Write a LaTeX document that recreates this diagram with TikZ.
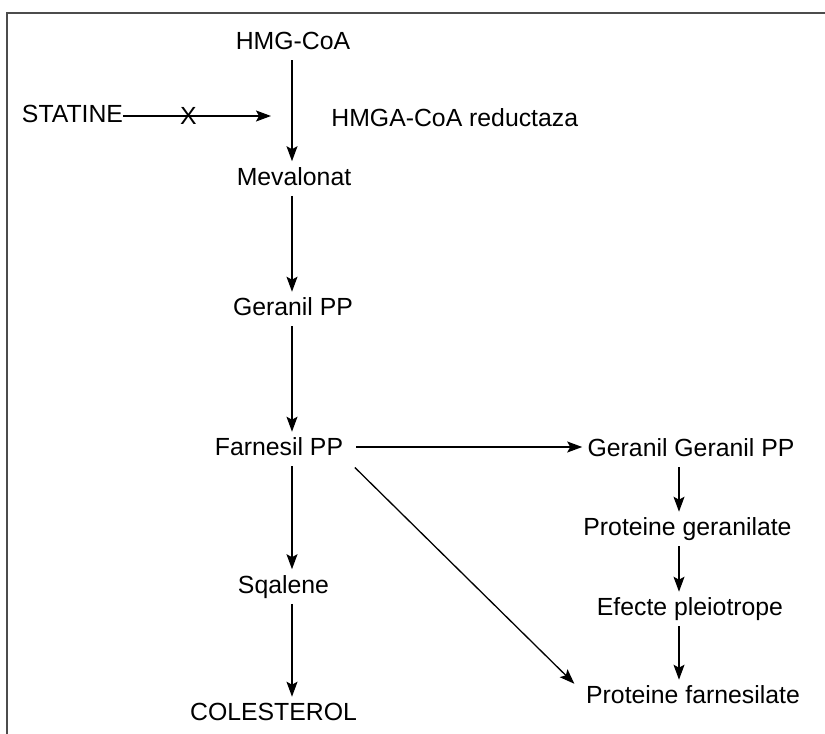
\documentclass[tikz,border=0pt]{standalone}
\usepackage{fontspec}
\setmainfont{Liberation Sans}
\usetikzlibrary{arrows.meta,positioning}

\begin{document}
\begin{tikzpicture}[x=0.5bp,y=-0.5bp,
  lbl/.style={inner sep=0pt,text height=8.9bp,text depth=0pt,font=\fontsize{12.4bp}{15bp}\selectfont},
  arr/.style={-{Stealth[length=7.5bp,width=5.5bp,inset=1.5bp]},line width=0.65bp,shorten <=5bp,shorten >=3bp}]
\useasboundingbox (0,0) rectangle (825,734);
\draw[line width=1bp,black!70] (7,734)--(7,13)--(825,13);
\coordinate (stem) at (292,0);
\coordinate (stemr) at (679,0);
\coordinate (block) at (271,116);
% main pathway
\node[lbl] (hmg) at (293,41) {HMG-CoA};
\node[lbl] (mev) at (294,176.5) {Mevalonat};
\node[lbl] (ger) at (293,307) {Geranil PP};
\node[lbl] (far) at (279,447) {Farnesil PP};
\node[lbl] (sqa) at (283.5,584.5) {Sqalene};
\node[lbl] (col) at (273.5,712) {COLESTEROL};
\node[lbl] (sta) at (72.5,113.5) {STATINE};
\node[lbl,anchor=west] (red) at (331,118) {HMGA-CoA reductaza};
% branch
\node[lbl] (gg) at (691,448) {Geranil Geranil PP};
\node[lbl] (pg) at (687.5,527) {Proteine geranilate};
\node[lbl] (ep) at (690,607) {Efecte pleiotrope};
\node[lbl] (pf) at (693,695) {Proteine farnesilate};

\draw[arr] (hmg.south -| stem)--(mev.north -| stem);
\draw[arr] (mev.south -| stem)--(ger.north -| stem);
\draw[arr] (ger.south -| stem)--(far.north -| stem);
\draw[arr] (far.south -| stem)--(sqa.north -| stem);
\draw[arr] (sqa.south -| stem)--(col.north -| stem);
\draw[arr,shorten <=0pt,shorten >=0pt] (sta.east |- block)--node[lbl,pos=0.44] (x) {X} (block);
\draw[arr,shorten <=6.5bp,shorten >=2.5bp] (far.east)--(gg.west |- far.east);
\draw[arr,shorten <=8bp,shorten >=8bp] (far.south east)--(pf.west);
\draw[arr] (gg.south -| stemr)--(pg.north -| stemr);
\draw[arr] (pg.south -| stemr)--(ep.north -| stemr);
\draw[arr] (ep.south -| stemr)--(pf.north -| stemr);
\end{tikzpicture}
\end{document}
